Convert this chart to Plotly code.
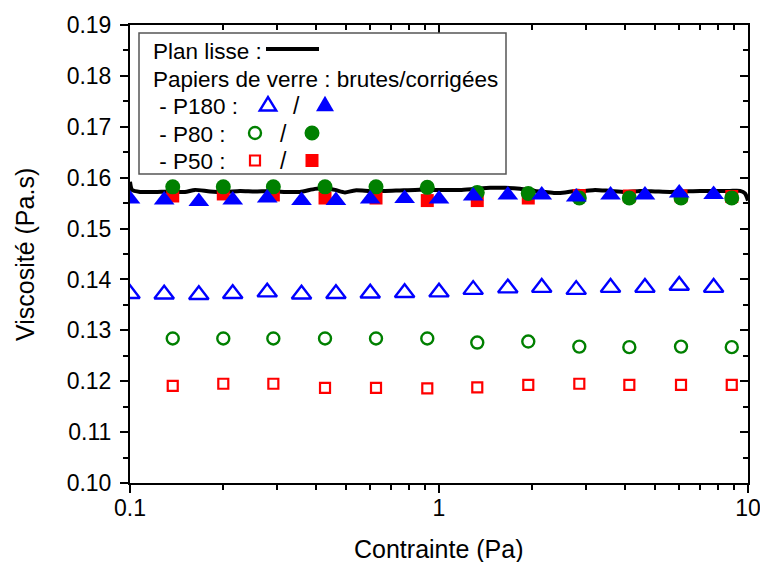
import plotly.graph_objects as go

# ---------------- data ----------------
# Plan lisse (smooth plate) reference curve
lisse_x = [0.1, 0.1015, 0.1077, 0.1205, 0.1347, 0.1506, 0.1623, 0.1815, 0.2030, 0.2270,
           0.2538, 0.2838, 0.3174, 0.3549, 0.3969, 0.4276, 0.4607, 0.4963, 0.5347, 0.5978,
           0.6685, 0.7475, 0.8361, 0.9352, 1.0457, 1.1695, 1.3076, 1.4624, 1.6355, 1.8288,
           2.0451, 2.2029, 2.3736, 2.5574, 2.7553, 2.9684, 3.1977, 3.5763, 3.9989, 4.4716,
           5.0004, 5.5915, 6.2532, 6.9928, 7.8195, 8.7451, 9.4220, 9.7789, 10.0]
lisse_y = [0.1592, 0.1576, 0.1572, 0.1572, 0.1573, 0.1572, 0.1576, 0.1573, 0.1572, 0.1574,
           0.1573, 0.1574, 0.1572, 0.1572, 0.1578, 0.1579, 0.1576, 0.1571, 0.1575, 0.1574,
           0.1574, 0.1575, 0.1576, 0.1576, 0.1576, 0.1576, 0.1578, 0.1580, 0.1580, 0.1578,
           0.1574, 0.1572, 0.1570, 0.1571, 0.1574, 0.1574, 0.1576, 0.1574, 0.1572, 0.1574,
           0.1573, 0.1572, 0.1573, 0.1574, 0.1574, 0.1574, 0.1574, 0.1569, 0.1555]

# P180 (triangles)
p180_x = [0.100, 0.129, 0.167, 0.215, 0.278, 0.359, 0.464, 0.599, 0.774,
          1.00, 1.29, 1.67, 2.15, 2.78, 3.59, 4.64, 5.99, 7.74]
p180_brut = [0.1372, 0.1371, 0.1370, 0.1372, 0.1375, 0.1371, 0.1372, 0.1373, 0.1374,
             0.1375, 0.1380, 0.1383, 0.1384, 0.1380, 0.1384, 0.1384, 0.1388, 0.1384]
p180_corr = [0.1558, 0.1556, 0.1553, 0.1556, 0.1560, 0.1555, 0.1555, 0.1558, 0.1559,
             0.1558, 0.1564, 0.1566, 0.1566, 0.1562, 0.1566, 0.1566, 0.1570, 0.1567]

# P80 (circles) and P50 (squares) share stress values
p80_x = [0.1375, 0.2004, 0.2910, 0.4277, 0.6254, 0.9164, 1.330, 1.945, 2.845, 4.13, 6.07, 8.86]
p80_brut = [0.1284, 0.1284, 0.1284, 0.1284, 0.1284, 0.1284, 0.1276, 0.1278, 0.1268, 0.1267, 0.1268, 0.1267]
p80_corr = [0.1582, 0.1582, 0.1582, 0.1582, 0.1582, 0.1581, 0.1571, 0.1569, 0.1560, 0.1560, 0.1560, 0.1560]

p50_x = p80_x
p50_brut = [0.1191, 0.1195, 0.1195, 0.1187, 0.1187, 0.1186, 0.1188, 0.1193, 0.1195, 0.1193, 0.1193, 0.1193]
p50_corr = [0.1564, 0.1568, 0.1566, 0.1560, 0.1560, 0.1555, 0.1555, 0.1560, 0.1565, 0.1564, 0.1564, 0.1563]

x_ticks = [0.1, 1, 10]
x_tick_labels = ["0.1", "1", "10"]
x_minor = [0.2, 0.3, 0.4, 0.5, 0.6, 0.7, 0.8, 0.9, 2, 3, 4, 5, 6, 7, 8, 9]

BLUE = "#0000FF"
GREEN = "#008000"
RED = "#FF0000"
FONT = "Liberation Sans, Arial, sans-serif"

fig = go.Figure()

fig.add_trace(go.Scatter(x=lisse_x, y=lisse_y, mode="lines",
                         line=dict(color="black", width=4, shape="spline", smoothing=0.6),
                         showlegend=False, cliponaxis=False))

# open markers (raw)
fig.add_trace(go.Scatter(x=p50_x, y=p50_brut, mode="markers",
                         marker=dict(symbol="square-open", size=10, color=RED, line=dict(width=2.2)),
                         showlegend=False))
fig.add_trace(go.Scatter(x=p80_x, y=p80_brut, mode="markers",
                         marker=dict(symbol="circle-open", size=12, color=GREEN, line=dict(width=2.4)),
                         showlegend=False))
fig.add_trace(go.Scatter(x=p180_x, y=p180_brut, mode="markers",
                         marker=dict(symbol="triangle-up-open", size=17, color=BLUE, line=dict(width=2.4)),
                         showlegend=False))
# filled markers (corrected)
fig.add_trace(go.Scatter(x=p50_x, y=p50_corr, mode="markers",
                         marker=dict(symbol="square", size=13, color=RED),
                         showlegend=False))
fig.add_trace(go.Scatter(x=p80_x, y=p80_corr, mode="markers",
                         marker=dict(symbol="circle", size=15, color=GREEN),
                         showlegend=False))
fig.add_trace(go.Scatter(x=p180_x, y=p180_corr, mode="markers",
                         marker=dict(symbol="triangle-up", size=18, color=BLUE),
                         showlegend=False))

# dummy trace for the mirrored (top/right) axes
fig.add_trace(go.Scatter(x=[], y=[], xaxis="x2", yaxis="y2", showlegend=False, hoverinfo="skip"))

axis_common = dict(showline=True, linewidth=2, linecolor="black", showgrid=False,
                   zeroline=False, tickwidth=2, tickcolor="black", ticklen=8, automargin=False)
tickfont = dict(family=FONT, size=23, color="black")

fig.update_layout(
    width=760, height=562,
    margin=dict(l=130, r=12, t=25, b=79),
    paper_bgcolor="white", plot_bgcolor="white",
    xaxis=dict(type="log", range=[-1, 1], tickvals=x_ticks, ticktext=x_tick_labels,
               ticks="outside", ticklabelstandoff=-5, ticklabeloverflow="allow", tickfont=tickfont,
               minor=dict(tickvals=x_minor, ticks="outside", ticklen=5, tickwidth=2, tickcolor="black"),
               **axis_common),
    yaxis=dict(range=[0.10, 0.19], dtick=0.01, tick0=0.10, tickformat=".2f",
               ticks="outside", ticklabelstandoff=4, ticklabeloverflow="allow", tickfont=tickfont,
               minor=dict(dtick=0.005, ticks="outside", ticklen=5, tickwidth=2, tickcolor="black"),
               **axis_common),
    xaxis2=dict(type="log", range=[-1, 1], overlaying="x", side="top", anchor="y2",
                tickvals=x_ticks, ticks="inside", showticklabels=False,
                minor=dict(tickvals=x_minor, ticks="inside", ticklen=5, tickwidth=2, tickcolor="black"),
                **axis_common),
    yaxis2=dict(range=[0.10, 0.19], dtick=0.01, tick0=0.10, overlaying="y", side="right", anchor="x2",
                ticks="inside", showticklabels=False,
                minor=dict(dtick=0.005, ticks="inside", ticklen=5, tickwidth=2, tickcolor="black"),
                **axis_common),
    showlegend=False,
)

PW, PH, L, T = 618.0, 458.0, 130.0, 25.0


def px(xp):
    return (xp - L) / PW


def py(yp):
    return (T + PH - yp) / PH


# axis titles
fig.add_annotation(text="Contrainte (Pa)", xref="paper", yref="paper", x=px(439), y=py(549),
                   xanchor="center", yanchor="middle", showarrow=False,
                   font=dict(family=FONT, size=25, color="black"))
fig.add_annotation(text="Viscosité (Pa.s)", xref="paper", yref="paper", x=px(25), y=py(255),
                   xanchor="center", yanchor="middle", textangle=-90, showarrow=False,
                   font=dict(family=FONT, size=25, color="black"))

# legend box (custom key: text + key symbols)
fig.add_shape(type="rect", xref="paper", yref="paper", x0=px(139), x1=px(506), y0=py(174), y1=py(33),
              line=dict(color="#555555", width=1.5), fillcolor="white", layer="above")
fig.add_shape(type="line", xref="paper", yref="paper", x0=px(266), x1=px(319), y0=py(49), y1=py(49),
              line=dict(color="black", width=4), layer="above")

legend_rows = [
    ("Plan lisse :", 151, 50),
    ("Papiers de verre : brutes/corrigées", 151, 78),
    (" - P180 :", 151, 106),
    (" - P80 :", 151, 133.5),
    (" - P50 :", 151, 160.5),
]
for txt, xx, yy in legend_rows:
    fig.add_annotation(text=txt, xref="paper", yref="paper", x=px(xx), y=py(yy + 1),
                       xanchor="left", yanchor="middle", showarrow=False,
                       font=dict(family=FONT, size=22.5, color="black"))

for xx, yy in [(296, 106), (283, 133.5), (283, 160.5)]:
    fig.add_annotation(text="/", xref="paper", yref="paper", x=px(xx), y=py(yy),
                       xanchor="center", yanchor="middle", showarrow=False,
                       font=dict(family=FONT, size=23, color="black"))


def tri_path(cx, cy, w, h):
    return "M {:.5f},{:.5f} L {:.5f},{:.5f} L {:.5f},{:.5f} Z".format(
        px(cx - w / 2), py(cy + h / 3), px(cx + w / 2), py(cy + h / 3), px(cx), py(cy - 2 * h / 3))


# key symbols
fig.add_shape(type="path", xref="paper", yref="paper", path=tri_path(268, 106, 16.5, 13.5),
              line=dict(color=BLUE, width=2.4), fillcolor="rgba(0,0,0,0)", layer="above")
fig.add_shape(type="path", xref="paper", yref="paper", path=tri_path(325, 106, 18, 15.5),
              line=dict(color=BLUE, width=0), fillcolor=BLUE, layer="above")
fig.add_shape(type="circle", xref="paper", yref="paper", x0=px(249), x1=px(261), y0=py(139), y1=py(127),
              line=dict(color=GREEN, width=2.4), fillcolor="rgba(0,0,0,0)", layer="above")
fig.add_shape(type="circle", xref="paper", yref="paper", x0=px(304.5), x1=px(319.5), y0=py(140.5), y1=py(125.5),
              line=dict(color=GREEN, width=0), fillcolor=GREEN, layer="above")
fig.add_shape(type="rect", xref="paper", yref="paper", x0=px(250), x1=px(260), y0=py(165.5), y1=py(155.5),
              line=dict(color=RED, width=2.2), fillcolor="rgba(0,0,0,0)", layer="above")
fig.add_shape(type="rect", xref="paper", yref="paper", x0=px(305.5), x1=px(318.5), y0=py(167), y1=py(154),
              line=dict(color=RED, width=0), fillcolor=RED, layer="above")

fig.write_html("out.html", config={"displayModeBar": False},
               post_script="document.body.style.margin='0px';")
